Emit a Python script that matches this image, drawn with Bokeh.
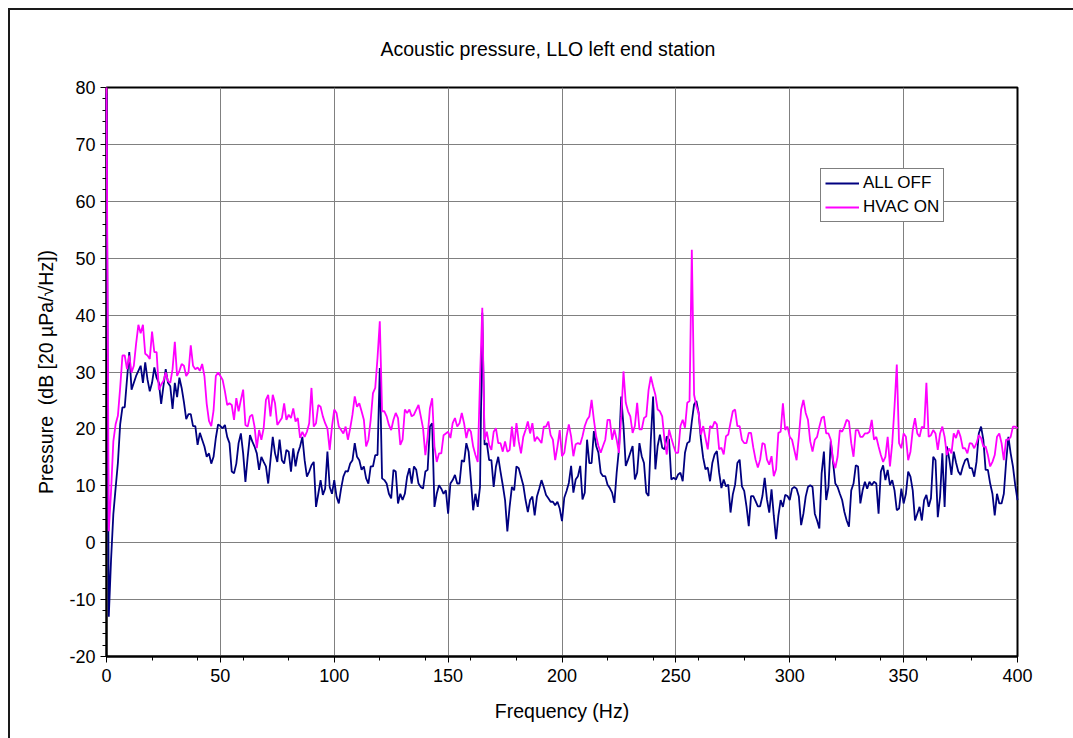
import numpy as np
from bokeh.plotting import figure
from bokeh.models import FixedTicker, Legend, LegendItem, InlineStyleSheet
from bokeh.embed import file_html
from bokeh.resources import INLINE

# Spectrum bins, 1 Hz apart from 0 to 400 Hz
freq_step_hz = 1.0

# Acoustic pressure spectrum with everything switched off
all_off_db = [
    79.0, -13.0, -3.0, 5.0, 9.6, 14.0, 20.8, 23.8, 23.8, 28.7,
    33.5, 26.9, 28.1, 29.3, 30.2, 31.1, 28.1, 31.7, 28.7, 26.6,
    28.1, 30.8, 29.0, 28.1, 24.4, 27.5, 30.5, 28.1, 27.5, 23.5,
    28.1, 25.6, 29.0, 27.2, 24.7, 21.7, 22.6, 22.6, 20.5, 20.5,
    17.2, 19.3, 18.1, 16.9, 15.1, 15.7, 13.9, 15.1, 18.4, 20.8,
    20.5, 20.1, 20.7, 18.6, 17.5, 12.5, 12.2, 13.9, 17.5, 19.2,
    15.7, 10.7, 15.1, 18.9, 17.8, 16.9, 15.7, 12.8, 15.1, 14.2,
    13.4, 10.4, 14.5, 18.6, 15.7, 14.2, 18.1, 14.5, 13.9, 16.3,
    16.0, 12.5, 16.6, 13.4, 15.7, 16.9, 18.6, 14.5, 11.6, 12.5,
    13.6, 14.2, 6.3, 8.6, 11.0, 8.4, 9.5, 16.0, 9.8, 8.6,
    11.0, 8.1, 6.9, 9.5, 11.6, 12.6, 12.5, 13.9, 14.5, 17.5,
    15.1, 14.5, 12.8, 13.4, 11.3, 10.4, 13.4, 13.4, 15.4, 15.4,
    30.7, 11.3, 11.0, 10.4, 8.6, 7.8, 12.8, 12.5, 6.9, 8.6,
    7.5, 8.6, 11.6, 13.1, 10.4, 13.4, 12.8, 10.4, 9.8, 9.5,
    12.5, 12.8, 20.4, 21.0, 6.3, 8.6, 10.1, 9.5, 8.6, 9.2,
    5.1, 10.4, 11.0, 11.9, 10.4, 10.4, 14.5, 14.2, 17.5, 16.0,
    11.0, 5.7, 8.6, 6.3, 9.8, 40.4, 17.2, 17.5, 14.5, 14.5,
    9.8, 13.4, 15.1, 12.5, 10.1, 7.5, 2.0, 6.3, 9.8, 9.2,
    13.4, 13.1, 11.6, 10.1, 7.5, 5.4, 7.5, 8.1, 4.8, 8.1,
    9.5, 11.0, 9.8, 8.4, 7.8, 7.2, 7.2, 6.6, 7.2, 6.0,
    3.8, 7.9, 9.1, 10.5, 13.5, 8.8, 11.1, 11.7, 13.5, 7.6,
    8.8, 18.1, 14.0, 14.0, 19.6, 17.0, 15.8, 12.3, 11.7, 11.7,
    10.2, 9.6, 8.8, 7.0, 12.3, 16.4, 25.7, 20.5, 13.5, 14.6,
    15.8, 17.0, 11.1, 12.3, 17.5, 15.2, 14.0, 8.8, 8.2, 18.1,
    25.7, 12.9, 17.0, 19.0, 16.7, 16.4, 18.7, 18.1, 11.1, 11.4,
    11.1, 12.0, 12.3, 10.8, 15.8, 17.5, 17.8, 21.3, 24.3, 24.9,
    22.8, 18.1, 14.9, 12.9, 13.2, 10.8, 14.0, 15.5, 16.1, 12.3,
    9.6, 11.1, 9.9, 10.2, 5.3, 8.5, 10.2, 14.0, 14.6, 9.9,
    9.1, 6.4, 2.9, 8.2, 8.2, 7.3, 6.4, 6.4, 8.2, 11.4,
    7.6, 5.3, 9.4, 4.7, 0.6, 4.7, 7.5, 6.3, 8.4, 8.2,
    7.5, 9.5, 9.8, 9.5, 8.1, 3.1, 5.1, 8.1, 9.8, 10.1,
    9.8, 5.1, 3.9, 2.5, 12.2, 16.0, 7.5, 9.8, 17.8, 14.2,
    10.4, 9.8, 8.6, 7.5, 5.4, 3.9, 2.8, 9.2, 10.4, 13.6,
    13.4, 6.9, 9.2, 10.7, 9.5, 10.7, 10.1, 10.7, 10.4, 5.1,
    12.5, 13.6, 11.0, 12.8, 10.1, 11.0, 9.2, 5.7, 6.0, 9.5,
    6.9, 8.6, 12.5, 11.6, 9.2, 3.9, 5.1, 6.3, 3.9, 7.5,
    8.4, 6.3, 7.8, 15.1, 14.5, 4.5, 8.1, 15.7, 6.3, 16.9,
    14.8, 11.9, 16.0, 14.1, 12.5, 11.9, 13.4, 14.5, 14.8, 13.1,
    13.1, 11.6, 14.2, 19.2, 20.4, 18.1, 12.8, 12.8, 10.4, 8.6,
    4.8, 8.6, 6.9, 6.9, 8.6, 14.2, 18.6, 15.7, 13.4, 10.1,
    7.5,
]

# Acoustic pressure spectrum with the HVAC running
hvac_on_db = [
    80.0, 2.0, 9.0, 17.8, 20.8, 22.3, 27.2, 32.9, 32.9, 30.5,
    32.9, 29.9, 31.1, 35.0, 38.3, 36.8, 38.3, 33.2, 32.9, 32.3,
    37.1, 33.5, 33.5, 26.9, 27.8, 28.4, 29.9, 28.4, 28.1, 30.5,
    35.3, 29.3, 30.2, 31.4, 31.1, 29.3, 29.9, 34.7, 31.1, 30.5,
    30.8, 30.2, 31.4, 29.3, 24.4, 21.4, 20.5, 23.2, 29.3, 29.9,
    29.3, 28.6, 26.6, 24.2, 24.5, 24.2, 21.6, 25.4, 23.1, 25.1,
    26.9, 20.7, 20.4, 22.2, 22.5, 20.4, 16.6, 19.8, 18.1, 20.1,
    25.1, 26.0, 22.2, 26.0, 24.5, 20.7, 21.3, 21.9, 24.5, 21.6,
    22.5, 21.9, 23.6, 21.3, 21.9, 18.4, 19.5, 18.6, 19.5, 21.0,
    27.2, 20.4, 21.0, 24.2, 23.9, 22.2, 21.0, 20.1, 16.3, 20.4,
    23.4, 22.8, 20.4, 19.8, 19.2, 20.4, 18.1, 20.1, 22.5, 25.7,
    23.9, 24.5, 23.1, 21.6, 16.9, 18.1, 21.6, 26.3, 27.2, 32.5,
    38.9, 23.1, 23.1, 22.2, 20.7, 19.8, 21.6, 22.8, 21.9, 17.2,
    18.1, 23.4, 22.8, 23.4, 22.2, 22.5, 23.4, 24.2, 22.2, 20.1,
    15.4, 18.6, 23.6, 25.4, 16.9, 14.2, 15.7, 15.7, 18.9, 19.2,
    19.5, 18.4, 21.0, 21.9, 20.4, 21.0, 22.8, 21.0, 18.4, 20.1,
    19.5, 16.9, 15.4, 14.2, 28.6, 41.3, 18.1, 19.5, 17.2, 16.3,
    19.5, 20.1, 17.5, 17.5, 16.0, 17.8, 16.0, 16.3, 20.4, 16.9,
    21.0, 17.8, 15.7, 18.6, 19.8, 21.3, 19.2, 21.0, 17.8, 18.6,
    18.1, 17.5, 20.4, 20.4, 21.3, 18.9, 18.1, 14.5, 16.9, 19.8,
    15.2, 15.8, 18.7, 20.8, 18.7, 15.2, 17.3, 17.5, 17.3, 18.7,
    20.5, 21.6, 22.2, 25.1, 21.6, 18.7, 17.0, 15.8, 17.0, 18.1,
    21.6, 21.6, 18.1, 19.9, 18.1, 15.8, 22.2, 30.1, 24.6, 23.1,
    22.2, 19.3, 20.5, 24.6, 19.9, 19.9, 21.9, 22.2, 26.8, 29.2,
    27.5, 26.0, 23.4, 23.1, 22.2, 18.1, 15.5, 19.9, 18.4, 17.0,
    15.8, 15.8, 20.5, 21.6, 20.2, 24.6, 24.9, 51.5, 26.0, 24.0,
    22.8, 19.0, 20.5, 18.4, 16.4, 20.5, 20.2, 21.3, 20.8, 16.4,
    16.7, 15.5, 18.7, 19.0, 21.1, 23.1, 23.4, 20.5, 20.5, 18.1,
    17.5, 17.5, 19.3, 19.3, 16.7, 14.6, 13.2, 14.6, 17.5, 17.3,
    14.6, 13.7, 15.2, 11.7, 12.9, 19.3, 19.5, 24.5, 19.8, 20.4,
    18.6, 18.1, 16.3, 14.5, 18.6, 23.4, 25.1, 22.8, 21.6, 17.8,
    16.0, 18.1, 18.6, 20.4, 21.9, 22.2, 19.2, 19.2, 18.1, 14.5,
    13.1, 15.1, 19.8, 19.5, 20.4, 21.6, 21.3, 17.5, 15.1, 19.8,
    19.8, 18.6, 18.6, 19.2, 19.2, 19.5, 21.6, 18.1, 18.6, 16.9,
    15.4, 14.2, 15.1, 18.6, 13.4, 17.5, 23.9, 31.3, 17.5, 16.6,
    19.2, 18.6, 14.5, 16.0, 19.8, 21.9, 19.2, 18.6, 20.4, 20.1,
    28.1, 18.6, 18.9, 19.8, 19.2, 16.3, 19.2, 20.4, 18.6, 15.4,
    16.6, 15.7, 19.2, 18.4, 19.8, 18.6, 16.6, 16.6, 15.7, 17.5,
    17.4, 16.6, 17.5, 18.9, 18.4, 16.9, 16.9, 15.4, 13.4, 14.2,
    15.4, 18.6, 19.2, 17.5, 14.5, 18.1, 18.1, 18.6, 20.4, 20.4,
    20.1,
]

series_labels = ["ALL OFF", "HVAC ON"]
series_colors = ["#000080", "#FF00FF"]

x_major_ticks = [0, 50, 100, 150, 200, 250, 300, 350, 400]
x_minor_ticks = list(range(0, 401, 20))
y_major_ticks = [-20, -10, 0, 10, 20, 30, 40, 50, 60, 70, 80]
y_minor_ticks = list(range(-20, 81, 2))
y_tick_text = {-20: "-20", -10: "-10"}

freq_hz = np.arange(len(all_off_db)) * freq_step_hz

FONT = "Liberation Sans"

# Chart-area border along the top and left edges of the page
chart_border_css = InlineStyleSheet(css="""
:host::after {
    content: "";
    position: absolute;
    left: 8px;
    top: 8px;
    right: 0;
    bottom: 0;
    border-left: 2px solid #1a1a1a;
    border-top: 2px solid #1a1a1a;
    pointer-events: none;
    z-index: 10;
}
""")

p = figure(
    frame_width=911, frame_height=569,
    min_border_left=106, min_border_right=56,
    min_border_top=87, min_border_bottom=82,
    x_range=(0, 400), y_range=(-20, 80),
    output_backend="svg", toolbar_location=None,
    background_fill_color="white", border_fill_color="white",
    stylesheets=[chart_border_css],
)

# Title
p.title.text = "Acoustic pressure, LLO left end station"
p.title.align = "left"
p.title.offset = 274
p.title.standoff = 56
p.title.text_font = FONT
p.title.text_font_size = "19.5px"
p.title.text_font_style = "normal"
p.title.text_color = "black"

# Plot frame
p.outline_line_color = "black"
p.outline_line_width = 2
p.outline_line_alpha = 1.0

# Axes
p.xaxis.ticker = FixedTicker(ticks=x_major_ticks, minor_ticks=x_minor_ticks)
p.yaxis.ticker = FixedTicker(ticks=y_major_ticks, minor_ticks=y_minor_ticks)
p.yaxis.major_label_overrides = y_tick_text
p.xaxis.axis_label = "Frequency (Hz)"
p.yaxis.axis_label = "Pressure\u00a0\u00a0(dB [20 \u00b5Pa/\u221aHz])"
for ax in (p.xaxis, p.yaxis):
    ax.axis_line_color = "black"
    ax.axis_line_width = 2
    ax.major_tick_line_color = "black"
    ax.minor_tick_line_color = "black"
    ax.major_tick_in = 0
    ax.major_tick_out = 6
    ax.minor_tick_in = 0
    ax.minor_tick_out = 4
    ax.major_label_text_font = FONT
    ax.major_label_text_font_size = "18px"
    ax.major_label_text_color = "black"
    ax.axis_label_text_font = FONT
    ax.axis_label_text_font_size = "19.5px"
    ax.axis_label_text_font_style = "normal"
    ax.axis_label_text_color = "black"
p.xaxis.major_label_standoff = 6
p.xaxis.axis_label_standoff = 15
p.yaxis.major_label_standoff = 5
p.yaxis.axis_label_standoff = 9

# Grid
p.xgrid.ticker = FixedTicker(ticks=x_major_ticks)
p.ygrid.ticker = FixedTicker(ticks=y_major_ticks)
for g in (p.xgrid, p.ygrid):
    g.grid_line_color = "#808080"
    g.grid_line_width = 1

# Spectra, drawn above the axis lines so the 0 Hz bin stays visible
r_off = p.line(freq_hz, all_off_db, line_color=series_colors[0], line_width=1.8)
r_on = p.line(freq_hz, hvac_on_db, line_color=series_colors[1], line_width=1.8)
r_off.level = "overlay"
r_on.level = "overlay"

legend = Legend(
    items=[LegendItem(label=series_labels[0], renderers=[r_off]),
           LegendItem(label=series_labels[1], renderers=[r_on])],
    location=(714, 434),
    orientation="vertical",
    border_line_color="black", border_line_width=1,
    background_fill_color="white", background_fill_alpha=1.0,
    label_text_font=FONT, label_text_font_size="17px",
    label_text_color="black",
    glyph_width=34, glyph_height=18, label_height=18,
    label_standoff=4, padding=4, spacing=4, margin=0,
)
p.add_layout(legend, "center")

open("out.html", "w").write(file_html(p, INLINE))
